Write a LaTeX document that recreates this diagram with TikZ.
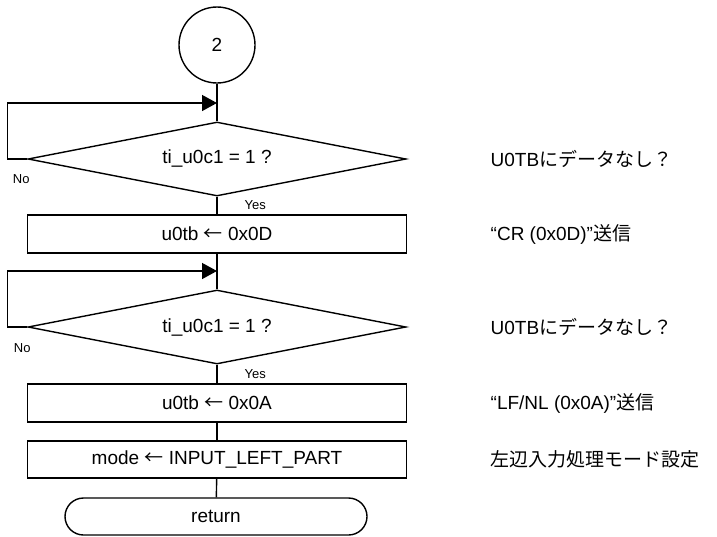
\documentclass[tikz,border=0pt]{standalone}
\usepackage{fontspec}
\setmainfont{Liberation Sans}
\newfontfamily\cjk{Noto Sans CJK JP}
\usetikzlibrary{shapes.geometric,shapes.misc,arrows.meta}
\tikzset{
  proc/.style={draw, minimum width=379pt, minimum height=38pt, inner sep=0},
  decide/.style={draw, diamond, aspect=5, minimum width=378pt, minimum height=74pt, inner sep=0},
  lbl/.style={font=\fontsize{13}{15}\selectfont, inner sep=0},
  note/.style={anchor=west, inner sep=0},
  flow/.style={-{Triangle[length=15pt,width=16pt]}},
}
\newcommand{\la}{{\cjk ←}}

\begin{document}
\begin{tikzpicture}[x=1pt, y=-1pt, line width=1.4pt, font=\fontsize{19}{22}\selectfont]
\useasboundingbox (0,0) rectangle (717,536);
\node[draw, circle, minimum size=76pt, inner sep=0] (conn) at (217,45) {2};
\node[decide] (dec1) at (217,159) {ti\_u0c1 = 1 ?};
\node[proc] (box1) at (217,234) {u0tb \la{} 0x0D};
\node[decide] (dec2) at (217,327) {ti\_u0c1 = 1 ?};
\node[proc] (box2) at (217,403) {u0tb \la{} 0x0A};
\node[proc, minimum height=37pt] (box3) at (217,459.5) {mode \la{} INPUT\_LEFT\_PART};
\node[draw, rounded rectangle, minimum width=302pt, minimum height=37pt, inner sep=0] (ret) at (216,516.5) {return};

\coordinate (m1) at (217,103);
\coordinate (m2) at (217,271);
\draw (conn) -- (dec1);
\draw[flow] (dec1.west) -- ++(-20,0) |- (m1);
\node[lbl] (no1) at ([shift={(-6,20)}]dec1.west) {No};
\draw (dec1) -- node[lbl, anchor=west, xshift=27pt]{Yes} (box1);
\draw (box1) -- (dec2);
\draw[flow] (dec2.west) -- ++(-20,0) |- (m2);
\node[lbl] (no2) at ([shift={(-5,21)}]dec2.west) {No};
\draw (dec2) -- node[lbl, anchor=west, xshift=27pt]{Yes} (box2);
\draw (box2) -- (box3);
\draw (box3) -- (ret);

\node[note] (n1) at (490,0 |- dec1) {U0TB{\cjk にデータなし？}};
\node[note] (n2) at (490,0 |- box1) {“CR (0x0D)”{\cjk 送信}};
\node[note] (n3) at (490,0 |- dec2) {U0TB{\cjk にデータなし？}};
\node[note] (n4) at (490,0 |- box2) {“LF/NL (0x0A)”{\cjk 送信}};
\node[note] (n5) at (490,0 |- box3) {{\cjk 左辺入力処理モード設定}};
\end{tikzpicture}
\end{document}
